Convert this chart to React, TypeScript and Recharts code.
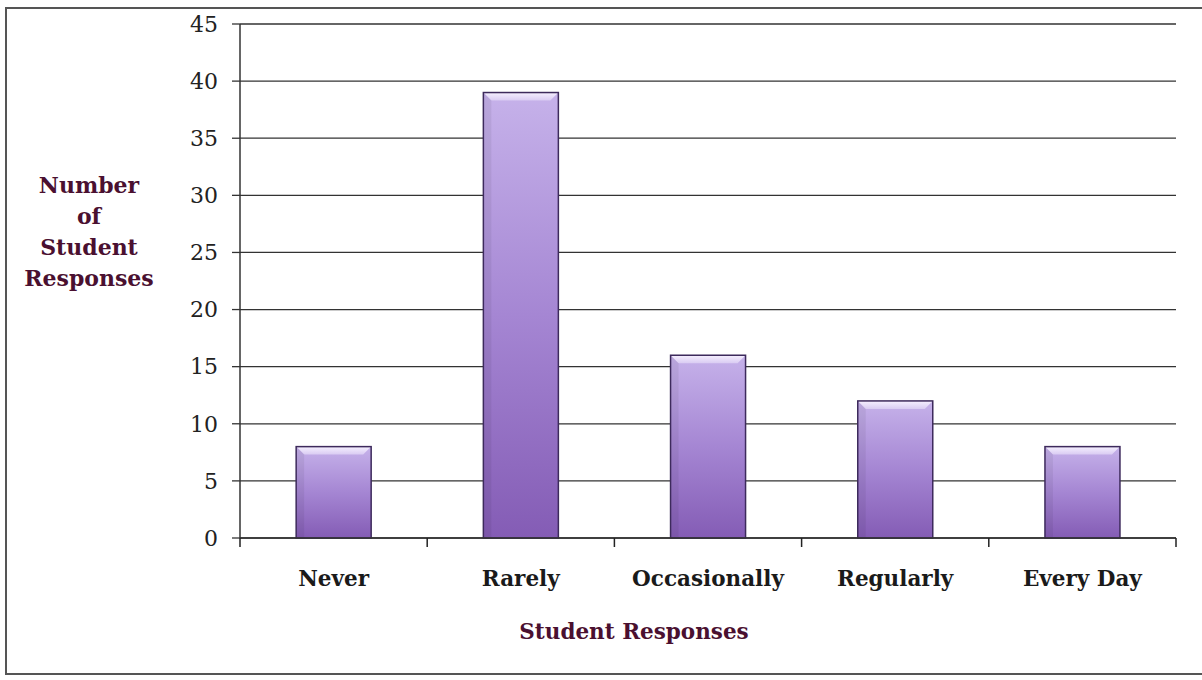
import { BarChart, Bar, XAxis, YAxis, CartesianGrid } from "recharts";

const categories = ["Never", "Rarely", "Occasionally", "Regularly", "Every Day"];
const responses = [8, 39, 16, 12, 8];
const yTicks = [0, 5, 10, 15, 20, 25, 30, 35, 40, 45];

const data = categories.map((name, i) => ({ name, value: responses[i] }));

const FONT = "'DejaVu Serif', 'Liberation Serif', serif";
const TITLE = "#4a1030";

function BevelBar(props: any) {
  const { x, y, width, height } = props;
  if (!height || height <= 0) return null;
  const b = Math.min(8, height / 2);
  return (
    <g>
      <rect x={x} y={y} width={width} height={height} fill="url(#barFill)" />
      <polygon
        points={`${x},${y} ${x + width},${y} ${x + width - b},${y + b} ${x + b},${y + b}`}
        fill="url(#bevelFill)"
      />
      <polygon points={`${x},${y} ${x + b},${y + b} ${x + b},${y + height} ${x},${y + height}`} fill="#000" opacity={0.06} />
      <rect x={x} y={y} width={width} height={height} fill="none" stroke="#3d2a5c" strokeWidth={1.5} />
    </g>
  );
}

function CategoryTick(props: any) {
  const { x, y, payload, index, width, visibleTicksCount } = props;
  const band = width / (visibleTicksCount || categories.length);
  const right = x + band / 2;
  return (
    <g>
      {index === 0 && <line x1={x - band / 2} y1={y} x2={x - band / 2} y2={y + 9} stroke="#222" strokeWidth={1.5} />}
      <line x1={right} y1={y} x2={right} y2={y + 9} stroke="#222" strokeWidth={1.5} />
      <text x={x} y={y + 48} textAnchor="middle" fontFamily={FONT} fontWeight="bold" fontSize={21.5} fill="#1a1a1a">
        {payload.value}
      </text>
    </g>
  );
}

export default function App() {
  return (
    <div style={{ position: "absolute", left: 0, top: 0, width: 1202, height: 680, background: "#fff", overflow: "hidden" }}>
      <div
        style={{
          position: "absolute",
          left: 5,
          top: 7,
          width: 1210,
          height: 668,
          border: "2px solid #555",
          boxSizing: "border-box",
        }}
      />
      <div
        style={{
          position: "absolute",
          left: 19,
          top: 170,
          width: 140,
          textAlign: "center",
          fontFamily: FONT,
          fontWeight: "bold",
          fontSize: 22,
          lineHeight: "31px",
          color: TITLE,
        }}
      >
        Number
        <br />
        of
        <br />
        Student
        <br />
        Responses
      </div>
      <div
        style={{
          position: "absolute",
          left: 434,
          top: 619,
          width: 400,
          textAlign: "center",
          fontFamily: FONT,
          fontWeight: "bold",
          fontSize: 21.5,
          color: TITLE,
        }}
      >
        Student Responses
      </div>
      <div style={{ position: "absolute", left: 0, top: 0 }}>
        <BarChart width={1202} height={680} data={data} margin={{ top: 24, right: 26, left: 170, bottom: 112 }} barCategoryGap="30%">
          <defs>
            <linearGradient id="barFill" x1="0" y1="0" x2="0" y2="1">
              <stop offset="0%" stopColor="#c6b2ea" />
              <stop offset="50%" stopColor="#a586d3" />
              <stop offset="100%" stopColor="#845cb5" />
            </linearGradient>
            <linearGradient id="bevelFill" x1="0" y1="0" x2="0" y2="1">
              <stop offset="0%" stopColor="#f6f0ff" />
              <stop offset="100%" stopColor="#d9cbf2" />
            </linearGradient>
          </defs>
          <CartesianGrid vertical={false} stroke="#333" strokeWidth={1.3} />
          <YAxis
            width={70}
            domain={[0, 45]}
            ticks={yTicks}
            interval={0}
            axisLine={{ stroke: "#333", strokeWidth: 1.5 }}
            tickLine={{ stroke: "#333", strokeWidth: 1.3 }}
            tickSize={8}
            tickMargin={14}
            tick={{ fontFamily: FONT, fontSize: 22, fill: "#222" }}
          />
          <XAxis
            dataKey="name"
            interval={0}
            axisLine={{ stroke: "#333", strokeWidth: 1.5 }}
            tickLine={false}
            tickSize={0}
            tickMargin={0}
            tick={<CategoryTick />}
          />
          <Bar dataKey="value" shape={<BevelBar />} isAnimationActive={false} />
        </BarChart>
      </div>
    </div>
  );
}
